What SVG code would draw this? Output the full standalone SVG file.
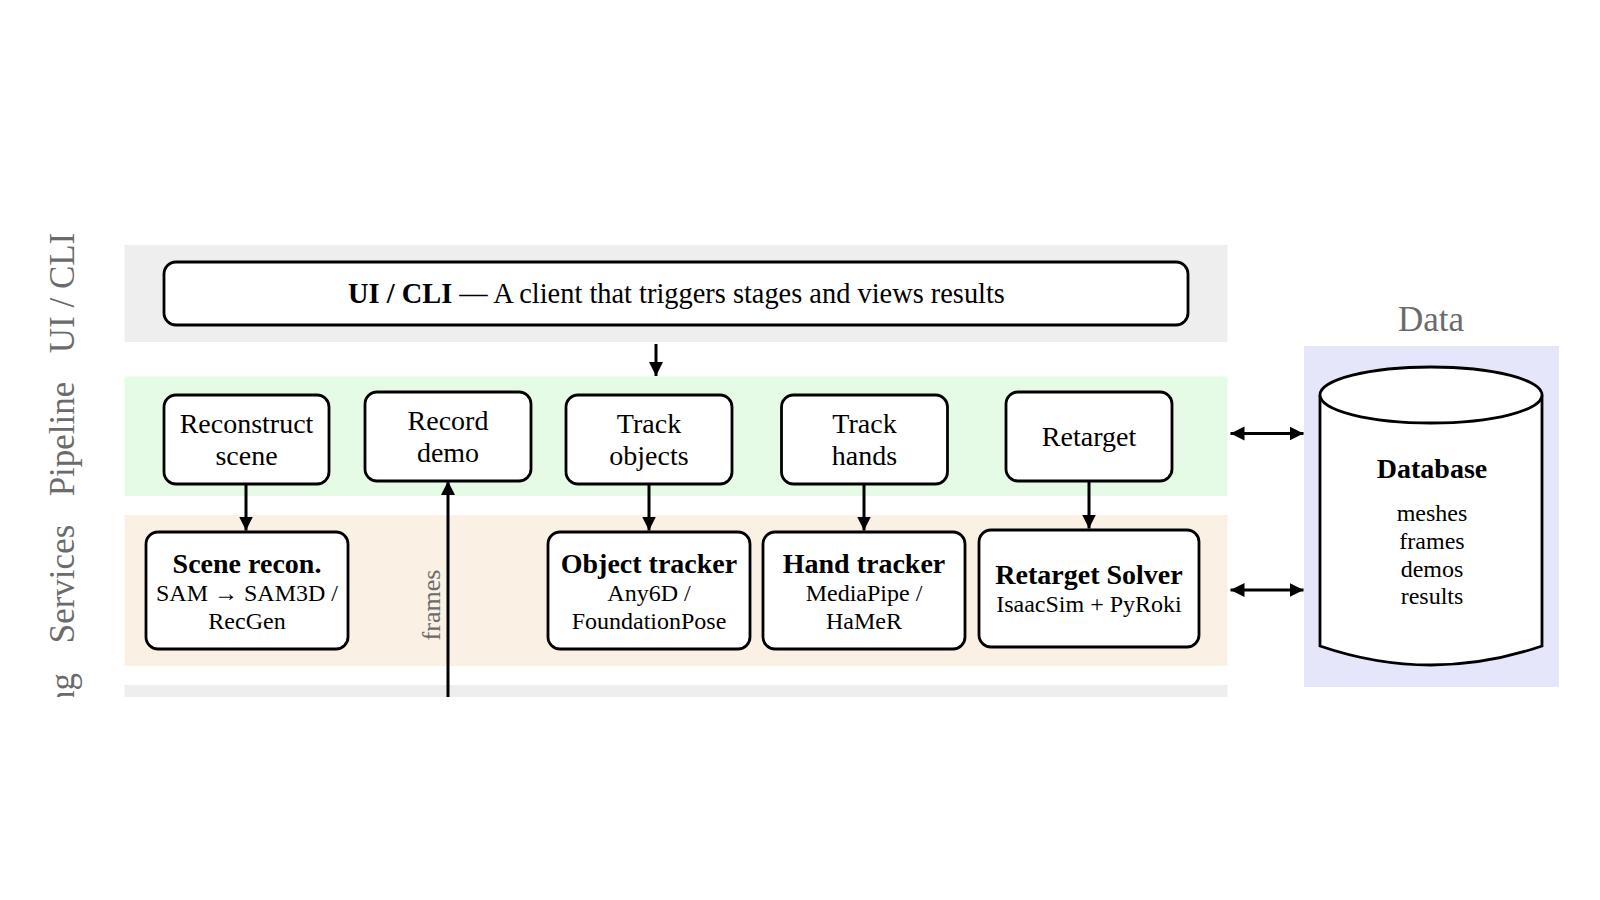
<svg xmlns="http://www.w3.org/2000/svg" width="1600" height="900" viewBox="0 0 1600 900">
<style>
.lane{font-family:"Liberation Serif",serif;font-size:35px;fill:#6b6b6b;text-anchor:middle}
.box{fill:#fff;stroke:#000;stroke-width:2.8}
.t{font-family:"Liberation Serif",serif;font-size:28px;fill:#000;text-anchor:middle}
.b{font-family:"Liberation Serif",serif;font-size:28px;font-weight:bold;fill:#000;text-anchor:middle}
.s{font-family:"Liberation Serif",serif;font-size:24px;fill:#000;text-anchor:middle}
.c{stroke:#000;stroke-width:3;fill:none}
</style>
<defs>
<marker id="ah" markerWidth="15" markerHeight="15" refX="14" refY="7" orient="auto-start-reverse" markerUnits="userSpaceOnUse">
<path d="M0,0 L14,7 L0,14 Z" fill="#000"/>
</marker>
<clipPath id="clip"><rect x="0" y="0" width="1600" height="697"/></clipPath>
</defs>
<rect width="1600" height="900" fill="#fff"/>
<g clip-path="url(#clip)">
<g id="lanes">
<rect x="124.5" y="245" width="1103" height="97" fill="#eeeeee"/>
<rect x="124.5" y="376.5" width="1103" height="119.5" fill="#e6fbe6"/>
<rect x="124.5" y="515" width="1103" height="151" fill="#faf0e4"/>
<rect x="124.5" y="685" width="1103" height="40" fill="#eeeeee"/>
<text class="lane" transform="translate(74,293) rotate(-90)">UI / CLI</text>
<text class="lane" transform="translate(74,439) rotate(-90)">Pipeline</text>
<text class="lane" transform="translate(74,584) rotate(-90)">Services</text>
<text class="lane" style="text-anchor:end" transform="translate(74,673) rotate(-90)">ng</text>
</g>
<g id="data-panel">
<rect x="1304" y="346" width="255" height="341" fill="#e6e6fa"/>
<text class="lane" x="1431" y="331">Data</text>
</g>
<g id="connectors">
<line class="c" x1="656" y1="344" x2="656" y2="376" marker-end="url(#ah)"/>
<line class="c" x1="246" y1="484" x2="246" y2="530.5" marker-end="url(#ah)"/>
<line class="c" x1="649" y1="484" x2="649" y2="530.5" marker-end="url(#ah)"/>
<line class="c" x1="864" y1="484" x2="864" y2="530.5" marker-end="url(#ah)"/>
<line class="c" x1="1089" y1="481" x2="1089" y2="528.5" marker-end="url(#ah)"/>
<line class="c" x1="448" y1="720" x2="448" y2="481" marker-end="url(#ah)"/>
<text class="lane" style="font-size:26px" transform="translate(440,605) rotate(-90)">frames</text>
<line class="c" x1="1230.5" y1="433.5" x2="1303.5" y2="433.5" marker-start="url(#ah)" marker-end="url(#ah)"/>
<line class="c" x1="1230.5" y1="590" x2="1303.5" y2="590" marker-start="url(#ah)" marker-end="url(#ah)"/>
</g>
<g id="ui-cli">
<rect class="box" x="164" y="262" width="1024" height="63" rx="12"/>
<text class="t" style="font-size:28.4px" x="676.5" y="303"><tspan font-weight="bold">UI / CLI</tspan> — A client that triggers stages and views results</text>
</g>
<g id="reconstruct-scene">
<rect class="box" x="164" y="395" width="165" height="89" rx="12"/>
<text class="t" x="246.5" y="432.5">Reconstruct</text>
<text class="t" x="246.5" y="465">scene</text>
</g>
<g id="record-demo">
<rect class="box" x="365" y="392" width="166" height="89" rx="12"/>
<text class="t" x="448" y="429.5">Record</text>
<text class="t" x="448" y="462">demo</text>
</g>
<g id="track-objects">
<rect class="box" x="566" y="395" width="166" height="89" rx="12"/>
<text class="t" x="649" y="432.5">Track</text>
<text class="t" x="649" y="465">objects</text>
</g>
<g id="track-hands">
<rect class="box" x="781.5" y="395" width="166" height="89" rx="12"/>
<text class="t" x="864.5" y="432.5">Track</text>
<text class="t" x="864.5" y="465">hands</text>
</g>
<g id="retarget">
<rect class="box" x="1006" y="392" width="166" height="89" rx="12"/>
<text class="t" x="1089" y="446">Retarget</text>
</g>
<g id="scene-recon">
<rect class="box" x="146" y="532" width="202" height="117" rx="12"/>
<text class="b" x="247" y="572.5">Scene recon.</text>
<text class="s" x="247" y="601">SAM → SAM3D /</text>
<text class="s" x="247" y="628.5">RecGen</text>
</g>
<g id="object-tracker">
<rect class="box" x="548" y="532" width="202" height="117" rx="12"/>
<text class="b" x="649" y="572.5">Object tracker</text>
<text class="s" x="649" y="601">Any6D /</text>
<text class="s" x="649" y="628.5">FoundationPose</text>
</g>
<g id="hand-tracker">
<rect class="box" x="763" y="532" width="202" height="117" rx="12"/>
<text class="b" x="864" y="572.5">Hand tracker</text>
<text class="s" x="864" y="601">MediaPipe /</text>
<text class="s" x="864" y="628.5">HaMeR</text>
</g>
<g id="retarget-solver">
<rect class="box" x="979" y="530" width="220" height="117" rx="12"/>
<text class="b" x="1089" y="584">Retarget Solver</text>
<text class="s" x="1089" y="612">IsaacSim + PyRoki</text>
</g>
<g id="database">
<path class="box" d="M1320,395 L1320,646 Q1431,684 1542,646 L1542,395"/>
<ellipse class="box" cx="1431" cy="395" rx="111" ry="28"/>
<text class="b" x="1432" y="477.5">Database</text>
<text class="s" x="1432" y="521">meshes</text>
<text class="s" x="1432" y="549">frames</text>
<text class="s" x="1432" y="576.5">demos</text>
<text class="s" x="1432" y="604">results</text>
</g>
</g>
</svg>
